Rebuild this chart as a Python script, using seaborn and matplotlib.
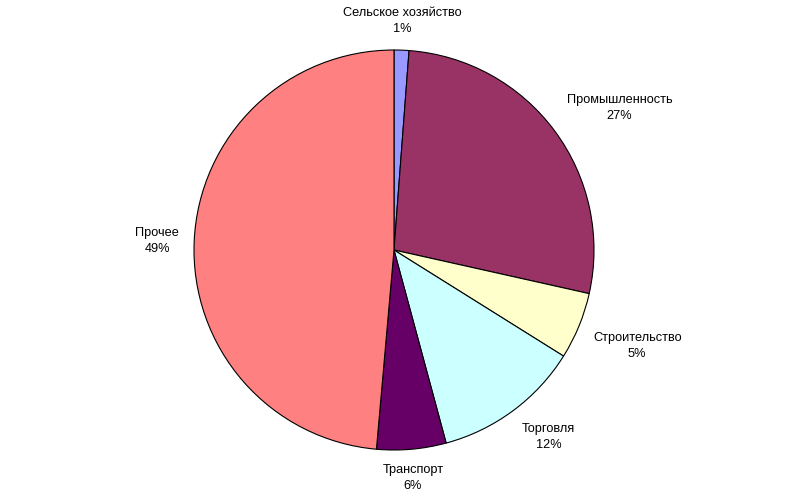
import numpy as np
import matplotlib
matplotlib.use("Agg")
import matplotlib.pyplot as plt
import seaborn as sns

categories = ["Сельское хозяйство", "Промышленность", "Строительство", "Торговля", "Транспорт", "Прочее"]
values = [1.2, 27.3, 5.4, 11.9, 5.6, 48.6]
colors = ["#9999FF", "#993366", "#FFFFCC", "#CCFFFF", "#660066", "#FF8080"]

sns.set_theme(style="white")
plt.rcParams["font.family"] = ["Liberation Sans", "DejaVu Sans"]

fig = plt.figure(figsize=(8.0, 4.98), dpi=100)
ax = fig.add_axes([0, 0, 1, 1])
wedges, _ = ax.pie(values, colors=colors, startangle=90, counterclock=False,
                   radius=1.0, center=(0, 0),
                   wedgeprops=dict(edgecolor="black", linewidth=0.8))
ax.set_xlim(-394 / 200, 406 / 200)
ax.set_ylim(-248 / 200, 250 / 200)
ax.set_aspect("equal")
ax.axis("off")

total = sum(values)
dist = 1.075
for w, name, v in zip(wedges, categories, values):
    ang = np.deg2rad((w.theta1 + w.theta2) / 2)
    cx, cy = np.cos(ang), np.sin(ang)
    x, y = dist * cx, dist * cy
    ha = "center" if abs(cx) < 0.25 else ("left" if cx > 0 else "right")
    va = "center" if abs(cy) < 0.25 else ("bottom" if cy > 0 else "top")
    ax.text(x, y, f"{name}\n{round(v / total * 100):.0f}%", ha=ha, va=va,
            multialignment="center", fontsize=9.2, color="black", linespacing=1.45)

fig.savefig("out.png", dpi=100, facecolor="white")
